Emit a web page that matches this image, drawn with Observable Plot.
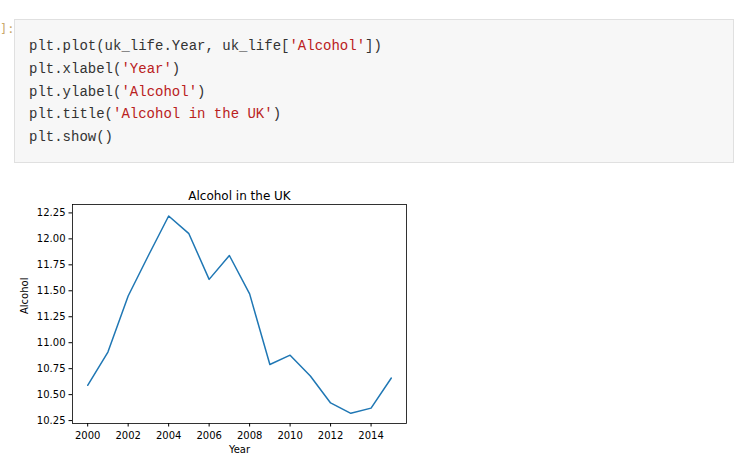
<!DOCTYPE html>
<html>
<head>
<meta charset="utf-8">
<script src="https://cdn.jsdelivr.net/npm/d3@7"></script>
<script src="https://cdn.jsdelivr.net/npm/@observablehq/plot@0.6"></script>
<style>
  html, body { margin: 0; padding: 0; background: #fff; width: 751px; height: 468px; overflow: hidden; position: relative; }
  .prompt { position: absolute; left: 0px; top: 22px; font: 12px "DejaVu Sans Mono", monospace; color: #c9a86a; }
  .cell { position: absolute; left: 14px; top: 19px; width: 718px; height: 142px; background: #f7f7f7; border: 1px solid #e0e0e0; }
  .code { position: absolute; left: 14px; top: 15px; margin: 0; font: 14px "Liberation Mono", "DejaVu Sans Mono", monospace; color: #333; }
  .code div { height: 22.8px; line-height: 22.8px; white-space: pre; }
  .s { color: #ba2121; }
  #chart { position: absolute; left: 0; top: 180px; }
</style>
</head>
<body>
<div class="prompt">]:</div>
<div class="cell"><div class="code" id="code"></div></div>
<div id="chart"></div>
<script>
// Code cell lines: [before, string-literal, after]
const codeLines = [
  ["plt.plot(uk_life.Year, uk_life[", "'Alcohol'", "])"],
  ["plt.xlabel(", "'Year'", ")"],
  ["plt.ylabel(", "'Alcohol'", ")"],
  ["plt.title(", "'Alcohol in the UK'", ")"],
  ["plt.show()", "", ""]
];

// Chart data
const years = [2000, 2001, 2002, 2003, 2004, 2005, 2006, 2007, 2008, 2009, 2010, 2011, 2012, 2013, 2014, 2015];
const alcohol = [10.59, 10.91, 11.45, 11.84, 12.22, 12.05, 11.61, 11.84, 11.47, 10.79, 10.88, 10.68, 10.42, 10.32, 10.37, 10.66];
const xTicks = [2000, 2002, 2004, 2006, 2008, 2010, 2012, 2014];
const yTicks = [10.25, 10.5, 10.75, 11.0, 11.25, 11.5, 11.75, 12.0, 12.25];
const chartTitle = "Alcohol in the UK";
const xLabel = "Year";
const yLabel = "Alcohol";

// render code, one block per line
const codeEl = document.getElementById("code");
for (const [a, s, b] of codeLines) {
  const line = document.createElement("div");
  line.appendChild(document.createTextNode(a));
  if (s) {
    const sp = document.createElement("span");
    sp.className = "s";
    sp.textContent = s;
    line.appendChild(sp);
  }
  if (b) line.appendChild(document.createTextNode(b));
  codeEl.appendChild(line);
}

const data = years.map((y, i) => ({year: y, value: alcohol[i]}));

const plot = Plot.plot({
  width: 420,
  height: 280,
  marginLeft: 72,
  marginRight: 14,
  marginTop: 24,
  marginBottom: 37,
  style: { fontFamily: "DejaVu Sans", fontSize: "10px", color: "#000", background: "transparent" },
  x: { domain: [1999.25, 2015.75], ticks: xTicks, tickFormat: d3.format("d"), label: null },
  y: { domain: [10.222, 12.331], ticks: yTicks, tickFormat: d3.format(".2f"), label: null },
  marks: [
    Plot.frame({ stroke: "#000", strokeWidth: 0.8 }),
    Plot.line(data, { x: "year", y: "value", stroke: "#1f77b4", strokeWidth: 1.5 }),
    Plot.axisX({ ticks: xTicks, tickFormat: d3.format("d"), tickSize: 3.5, tickPadding: 5, label: null, stroke: "#000", strokeOpacity: 1 }),
    Plot.axisY({ ticks: yTicks, tickFormat: d3.format(".2f"), tickSize: 3.5, tickPadding: 3.5, label: null, stroke: "#000", strokeOpacity: 1 }),
    Plot.text([chartTitle], { frameAnchor: "top", dy: -13, fontSize: 12, fill: "#000" }),
    Plot.text([xLabel], { frameAnchor: "bottom", dy: 29, fontSize: 10, fill: "#000" }),
    Plot.text([yLabel], { frameAnchor: "left", dx: -48, rotate: -90, fontSize: 10, fill: "#000" })
  ]
});
document.getElementById("chart").appendChild(plot);
</script>
</body>
</html>
